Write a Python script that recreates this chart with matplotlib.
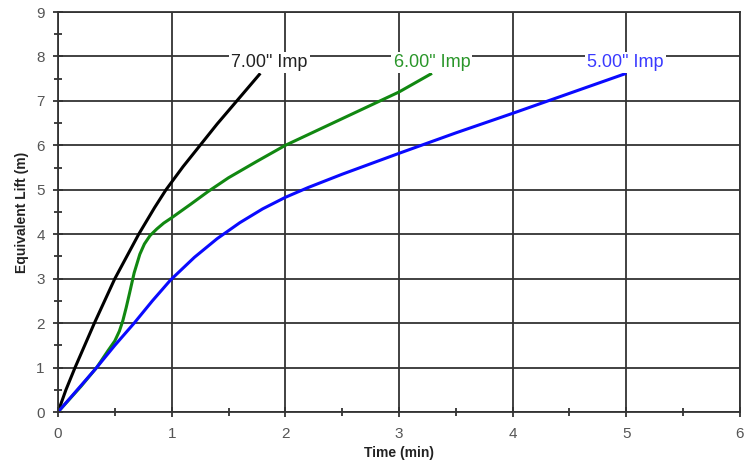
import matplotlib
matplotlib.use("Agg")
import matplotlib.pyplot as plt

plt.rcParams['font.family'] = ['Liberation Sans', 'DejaVu Sans']

# 7.00" Imp (black)
x7 = [0, 0.07, 0.15, 0.32, 0.5, 0.71, 0.85, 0.95, 1.1, 1.25, 1.4, 1.6, 1.78]
y7 = [0, 0.5, 1.0, 2.0, 3.0, 4.0, 4.6, 5.0, 5.52, 6.0, 6.48, 7.08, 7.62]

# 6.00" Imp (green)
x6 = [0, 0.2, 0.34, 0.44, 0.5, 0.54, 0.57, 0.6, 0.63, 0.67, 0.72, 0.76, 0.81, 0.87, 0.93, 1.0, 1.17, 1.32, 1.5, 1.75, 2.0, 2.5, 3.0, 3.29]
y6 = [0, 0.57, 1.0, 1.38, 1.6, 1.82, 2.05, 2.35, 2.68, 3.13, 3.55, 3.78, 3.97, 4.12, 4.25, 4.37, 4.68, 4.96, 5.27, 5.64, 6.0, 6.6, 7.2, 7.62]

# 5.00" Imp (blue)
x5 = [0, 0.17, 0.34, 0.5, 0.67, 0.83, 0.99, 1.2, 1.4, 1.6, 1.8, 2.0, 2.2, 2.5, 3.0, 3.5, 4.0, 4.5, 5.0]
y5 = [0, 0.5, 1.0, 1.5, 2.0, 2.5, 2.97, 3.48, 3.9, 4.26, 4.57, 4.83, 5.05, 5.35, 5.82, 6.28, 6.72, 7.17, 7.62]

labels = ['7.00" Imp', '6.00" Imp', '5.00" Imp']
label_x = [1.86, 3.29, 4.99]
label_y = [7.86, 7.86, 7.86]
line_colors = ['black', '#118811', '#0a0aff']
text_colors = ['#222222', '#2a962a', '#3a3aff']

fig = plt.figure(figsize=(7.51, 4.63), dpi=100)
ax = fig.add_axes([58/751, 51/463, 682/751, 400/463])

grid_c = '#333333'
ax.set_xlim(0, 6)
ax.set_ylim(0, 9)
ax.set_xticks(range(0, 7))
ax.set_yticks(range(0, 10))
ax.set_xticks([i + 0.5 for i in range(6)], minor=True)
ax.set_yticks([i + 0.5 for i in range(9)], minor=True)
ax.grid(True, which='major', color=grid_c, linewidth=1.3)
ax.set_axisbelow(True)
for s in ax.spines.values():
    s.set_color(grid_c)
    s.set_linewidth(1.3)
ax.tick_params(which='major', direction='inout', length=7, width=1.3, color=grid_c,
               labelsize=11, labelcolor='#555555')
ax.tick_params(axis='x', which='major', pad=7)
ax.tick_params(axis='y', which='major', pad=6)
ax.tick_params(which='minor', direction='inout', length=6, width=1.3, color=grid_c)

for xs, ys, c in zip([x7, x6, x5], [y7, y6, y5], line_colors):
    ax.plot(xs, ys, color=c, linewidth=2.2, solid_capstyle='butt', solid_joinstyle='round')

for t, lx, ly, c in zip(labels, label_x, label_y, text_colors):
    ax.text(lx, ly, t, color=c, fontsize=13, ha='center', va='center',
            bbox=dict(facecolor='white', edgecolor='none', pad=1.5), zorder=5)

ax.set_xlabel('Time (min)', fontsize=10, fontweight='bold', color='#222222', labelpad=4)
ax.set_ylabel('Equivalent Lift (m)', fontsize=10, fontweight='bold', color='#222222', labelpad=5)

fig.savefig('out.png', dpi=100)
